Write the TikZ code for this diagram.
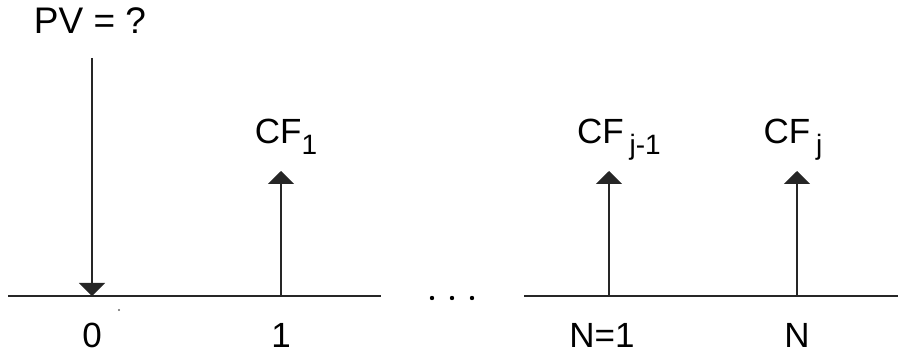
\documentclass[tikz,border=0pt]{standalone}
\usepackage{fontspec}
\setmainfont{Liberation Sans}
\usetikzlibrary{arrows.meta}
\newcommand\lowsub[1]{\raisebox{-11pt}{\fontsize{28}{28}\selectfont #1}}
\begin{document}
\begin{tikzpicture}[x=1pt,y=-1pt,
  axis/.style={line width=1.8pt, black!85},
  flow/.style={line width=1.6pt, black!85, -{Triangle[width=26pt,length=13pt]}},
  lab/.style={anchor=base, inner sep=0pt, font=\fontsize{35}{35}\selectfont},
  dotmark/.style={fill=black, draw=none}]
\useasboundingbox (0,0) rectangle (900,355);
% axis end points
\coordinate (aL) at (8,296);
\coordinate (aLe) at (381,296);
\coordinate (aR) at (524,296);
\coordinate (aRe) at (898,296);
% ticks on axis
\coordinate (t0) at (92,296);
\coordinate (t1) at (281,296);
\coordinate (tj1) at (609,296);
\coordinate (tj) at (797,296);
% arrow far ends
\coordinate (pvtop) at (92,58);
\coordinate (h1) at (281,171);
\coordinate (hj1) at (609,171);
\coordinate (hj) at (797,171);
% axis
\draw[axis] (aL) -- (aLe);
\draw[axis] (aR) -- (aRe);
% dots
\fill[dotmark] (432,298) circle (2.2pt);
\fill[dotmark] (452,298) circle (2.2pt);
\fill[dotmark] (472,298) circle (2.2pt);
\fill[black!60] (119,310) circle (1.1pt);
% arrows
\draw[flow] (pvtop) -- (t0);
\draw[flow] (t1) -- (h1);
\draw[flow] (tj1) -- (hj1);
\draw[flow] (tj) -- (hj);
% labels
\node[lab, font=\fontsize{37}{37}\selectfont] (pv) at (90,34) {PV = ?};
\node[lab] (cf1) at (286,144) {CF\lowsub{1}};
\node[lab] (cfj1) at (619,144) {CF\,\lowsub{j-1}};
\node[lab] (cfj) at (793,144) {CF\,\lowsub{j}};
\node[lab] (l0) at (92,348) {0};
\node[lab] (l1) at (281,348) {1};
\node[lab] (lN1) at (602,348) {N=1};
\node[lab] (lN) at (797,348) {N};
\end{tikzpicture}
\end{document}
